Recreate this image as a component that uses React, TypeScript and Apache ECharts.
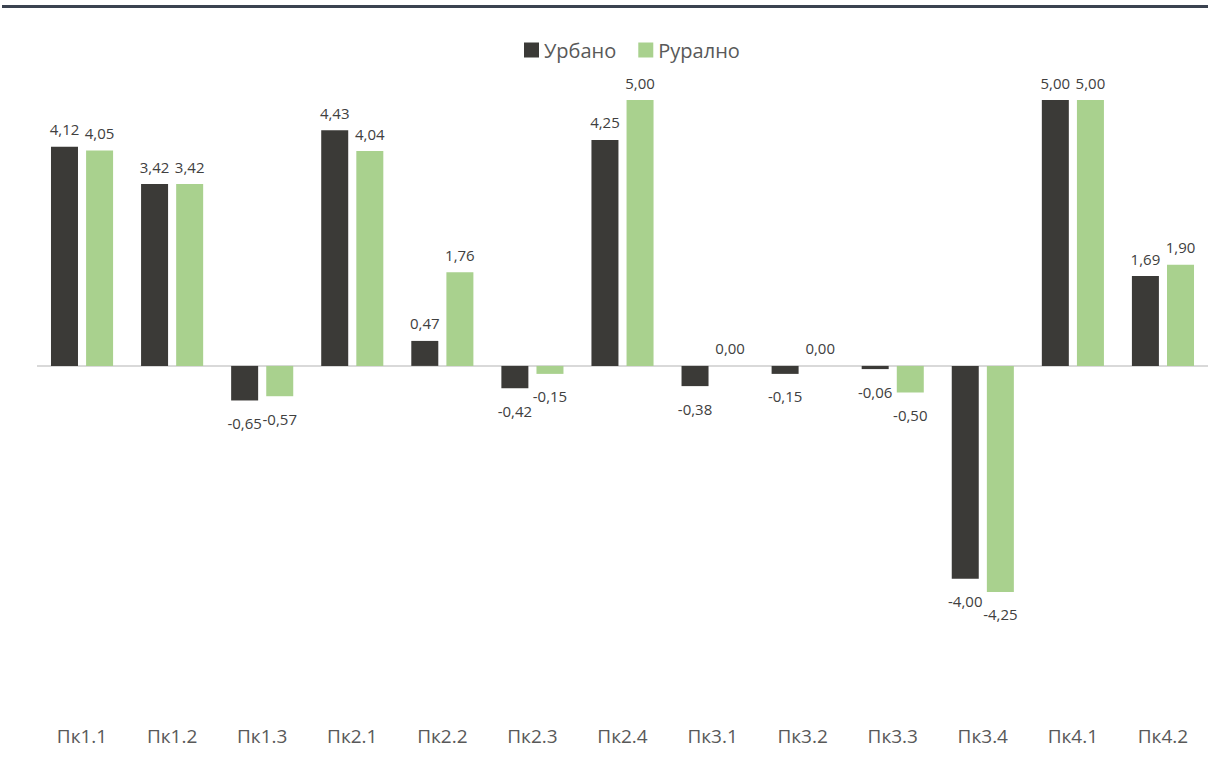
import React, { useEffect, useRef } from "react";
import * as echarts from "echarts";

const categories = ["Пк1.1", "Пк1.2", "Пк1.3", "Пк2.1", "Пк2.2", "Пк2.3", "Пк2.4", "Пк3.1", "Пк3.2", "Пк3.3", "Пк3.4", "Пк4.1", "Пк4.2"];
const urbanValues = [4.12, 3.42, -0.65, 4.43, 0.47, -0.42, 4.25, -0.38, -0.15, -0.06, -4.0, 5.0, 1.69];
const ruralValues = [4.05, 3.42, -0.57, 4.04, 1.76, -0.15, 5.0, 0.0, 0.0, -0.5, -4.25, 5.0, 1.9];
const seriesNames = ["Урбано", "Рурално"];
const colors = ["#3b3a37", "#a9d18e"];

const fmt = (v: number) => v.toFixed(2).replace(".", ",");

const toItems = (vals: number[]) =>
  vals.map((v) => ({
    value: v,
    label: { position: v < 0 ? "bottom" : "top", distance: v < 0 ? 15 : 10 },
  }));

export default function App() {
  const ref = useRef<HTMLDivElement>(null);
  useEffect(() => {
    if (!ref.current) return;
    const chart = echarts.init(ref.current, undefined, { renderer: "svg" });
    const font = "'Open Sans', 'Noto Sans', sans-serif";
    const labelCfg = {
      show: true,
      color: "#404040",
      fontSize: 15,
      fontFamily: font,
      formatter: (p: any) => fmt(p.value),
    };
    chart.setOption({
      animation: false,
      backgroundColor: "#ffffff",
      graphic: [
        {
          type: "rect",
          shape: { x: 2, y: 5, width: 1206, height: 3 },
          style: { fill: "#3b4350" },
        },
      ],
      legend: {
        top: 35,
        left: 519,
        itemWidth: 15,
        itemHeight: 15,
        itemGap: 22,
        icon: "rect",
        textStyle: { color: "#595959", fontSize: 20, fontFamily: font },
        data: seriesNames,
      },
      grid: { top: 100, bottom: 85, left: 37, right: 0, containLabel: false },
      xAxis: {
        type: "category",
        data: categories,
        axisLine: { show: false, onZero: false },
        axisTick: { show: false },
        axisLabel: { color: "#595959", fontSize: 19, fontFamily: font, margin: 41 },
      },
      yAxis: {
        type: "value",
        min: -6,
        max: 5,
        show: false,
        splitLine: { show: false },
      },
      series: [
        {
          name: seriesNames[0],
          type: "bar",
          data: toItems(urbanValues),
          barWidth: 27,
          barGap: "30%",
          itemStyle: { color: colors[0] },
          label: labelCfg,
          markLine: {
            silent: true,
            symbol: "none",
            label: { show: false },
            lineStyle: { color: "#d9d9d9", width: 2, type: "solid" },
            data: [{ yAxis: 0 }],
            z: 1,
          },
        },
        {
          name: seriesNames[1],
          type: "bar",
          data: toItems(ruralValues),
          barWidth: 27,
          barGap: "30%",
          itemStyle: { color: colors[1] },
          label: labelCfg,
        },
      ],
    });
    return () => chart.dispose();
  }, []);
  return (
    <div
      ref={ref}
      style={{ position: "fixed", left: 0, top: 0, width: 1208, height: 770, background: "#fff" }}
    />
  );
}
